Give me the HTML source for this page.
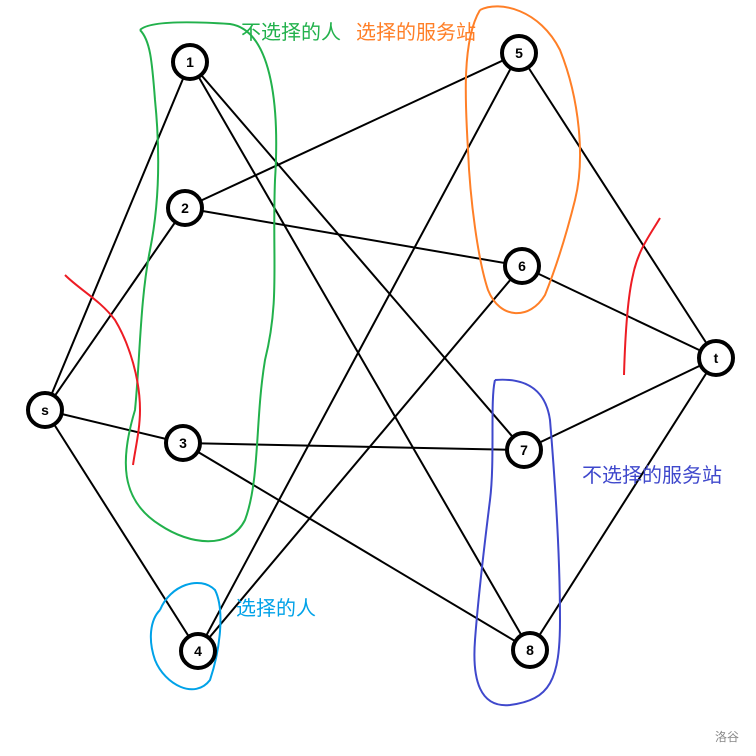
<!DOCTYPE html>
<html><head><meta charset="utf-8"><style>body{margin:0;background:#fff}svg{display:block}</style></head><body>
<svg width="756" height="756" viewBox="0 0 756 756" xmlns="http://www.w3.org/2000/svg">
<g stroke="#000" stroke-width="2" fill="none">
<line x1="45" y1="410" x2="190" y2="62"/><line x1="45" y1="410" x2="185" y2="208"/>
<line x1="45" y1="410" x2="183" y2="443"/><line x1="45" y1="410" x2="198" y2="651"/>
<line x1="190" y1="62" x2="524" y2="450"/><line x1="190" y1="62" x2="530" y2="650"/>
<line x1="185" y1="208" x2="519" y2="53"/><line x1="185" y1="208" x2="522" y2="266"/>
<line x1="183" y1="443" x2="524" y2="450"/><line x1="183" y1="443" x2="530" y2="650"/>
<line x1="198" y1="651" x2="519" y2="53"/><line x1="198" y1="651" x2="522" y2="266"/>
<line x1="519" y1="53" x2="716" y2="358"/><line x1="522" y1="266" x2="716" y2="358"/>
<line x1="524" y1="450" x2="716" y2="358"/><line x1="530" y1="650" x2="716" y2="358"/>
</g>
<g fill="none" stroke-width="2">
<path d="M140,30 C150,20 200,22 230,24 C270,30 280,100 275,180 C272,260 280,300 265,360 C255,420 260,480 245,520 C230,550 190,545 160,525 C120,500 120,460 135,410 C140,360 140,300 150,250 C160,200 160,150 155,100 C152,60 150,40 140,30" stroke="#22b14c"/>
<path d="M480,10 C500,0 540,10 560,50 C580,100 585,160 575,200 C565,240 555,270 545,295 C530,320 500,320 488,290 C478,260 470,200 468,150 C465,100 462,40 480,10" stroke="#ff7f27"/>
<path d="M495,380 C520,378 545,385 550,420 C555,480 560,560 560,620 C560,680 550,700 510,705 C480,708 472,680 475,640 C478,600 485,540 490,500 C495,460 490,400 495,380" stroke="#3f48cc"/>
<path d="M160,610 C170,585 200,575 215,590 C225,610 220,650 210,680 C195,700 165,685 155,660 C148,640 150,620 160,610" stroke="#00a2e8"/>
<path d="M65,275 C80,290 100,300 115,320 C130,345 140,380 140,410 C140,430 135,450 133,465" stroke="#ed1c24"/>
<path d="M660,218 C650,235 638,250 633,275 C627,300 625,340 624,375" stroke="#ed1c24"/>
</g>
<g stroke="#000" stroke-width="4" fill="#fff">
<circle cx="190" cy="62" r="17"/><circle cx="185" cy="208" r="17"/><circle cx="45" cy="410" r="17"/>
<circle cx="183" cy="443" r="17"/><circle cx="198" cy="651" r="17"/><circle cx="519" cy="53" r="17"/>
<circle cx="522" cy="266" r="17"/><circle cx="716" cy="358" r="17"/><circle cx="524" cy="450" r="17"/>
<circle cx="530" cy="650" r="17"/>
</g>
<g font-family="Liberation Sans, sans-serif" font-weight="bold" font-size="14" text-anchor="middle">
<text x="190" y="67">1</text><text x="185" y="213">2</text><text x="45" y="415">s</text>
<text x="183" y="448">3</text><text x="198" y="656">4</text><text x="519" y="58">5</text>
<text x="522" y="271">6</text><text x="716" y="363">t</text><text x="524" y="455">7</text>
<text x="530" y="655">8</text>
</g>
<g font-family="Liberation Sans, Noto Sans CJK SC, sans-serif" font-size="20">
<text x="241" y="39" fill="#22b14c">不选择的人</text>
<text x="356" y="39" fill="#ff7f27">选择的服务站</text>
<text x="582" y="482" fill="#3f48cc">不选择的服务站</text>
<text x="236" y="615" fill="#00a2e8">选择的人</text>
<text x="715" y="741" fill="#888" font-size="12">洛谷</text>
</g>
</svg>
</body></html>
